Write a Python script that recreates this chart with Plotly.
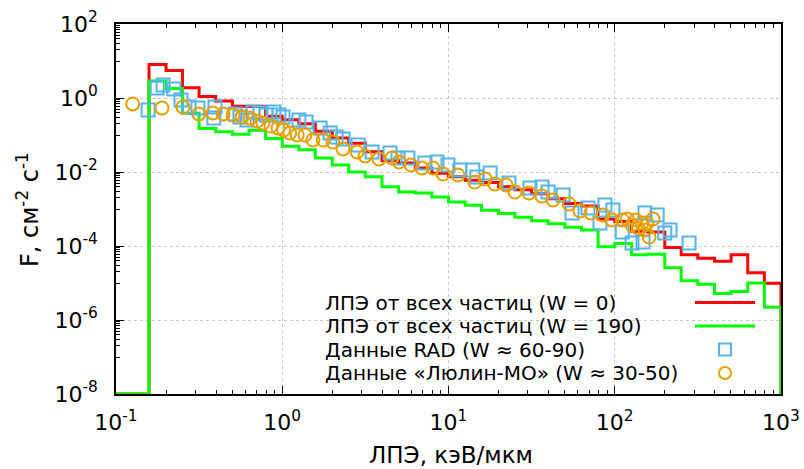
import plotly.graph_objects as go

# LET bin edges, keV/um (10 bins per decade)
let_edges = [0.158, 0.2, 0.251, 0.316, 0.398, 0.501, 0.631, 0.794, 1.0, 1.26,
             1.58, 2.0, 2.51, 3.16, 3.98, 5.01, 6.31, 7.94, 10.0, 12.6,
             15.8, 20.0, 25.1, 31.6, 39.8, 50.1, 63.1, 79.4, 100.0, 126.0,
             158.0, 200.0, 251.0, 316.0, 398.0, 501.0, 631.0, 794.0, 1000.0]

# Flux per bin, cm^-2 s^-1: all particles, W = 0
flux_w0 = [8.1, 5.5, 1.9, 1.1, 0.83, 0.60, 0.60, 0.32, 0.26, 0.20,
           0.126, 0.083, 0.060, 0.035, 0.020, 0.0174, 0.0129, 0.0093, 0.0074, 0.0060,
           0.0052, 0.0040, 0.0033, 0.0026, 0.0019, 0.0014, 0.0012, 5.4e-4, 4.6e-4, 2.5e-4,
           2.4e-4, 9.1e-5, 5.8e-5, 4.7e-5, 3.9e-5, 5.8e-5, 1.9e-5, 9.8e-6]

# Flux per bin: all particles, W = 190
flux_w190 = [2.9, 1.8, 0.39, 0.15, 0.123, 0.105, 0.135, 0.081, 0.050, 0.040,
             0.024, 0.0155, 0.010, 0.0074, 0.0040, 0.0029, 0.0027, 0.0021, 0.00155, 0.00126,
             9.3e-4, 7.6e-4, 6.0e-4, 4.8e-4, 4.0e-4, 3.2e-4, 2.7e-4, 9.5e-5, 1.17e-4, 5.8e-5,
             6.0e-5, 2.6e-5, 1.15e-5, 9.3e-6, 5.2e-6, 5.9e-6, 1.0e-5, 2.2e-6]

# RAD measurements (W ~ 60-90)
rad_let = [0.156, 0.177, 0.192, 0.223, 0.246, 0.275, 0.311, 0.388, 0.394, 0.520,
           0.557, 0.614, 0.667, 0.734, 0.798, 0.891, 0.955, 1.01, 1.26, 1.39,
           1.69, 1.94, 2.11, 2.32, 2.86, 3.47, 4.45, 4.97, 5.70, 7.22,
           8.53, 9.93, 11.7, 14.0, 14.8, 17.8, 23.1, 30.9, 36.5, 39.7,
           48.9, 55.3, 69.0, 81.5, 87.3, 97.5, 111.0, 127.0, 148.0, 152.0,
           180.0, 200.0, 215.0, 280.0]
rad_flux = [0.474, 1.86, 2.25, 1.75, 0.883, 0.571, 0.537, 0.288, 0.571, 0.37,
            0.306, 0.254, 0.419, 0.394, 0.347, 0.419, 0.347, 0.306, 0.254, 0.224,
            0.155, 0.113, 0.0883, 0.078, 0.0537, 0.0348, 0.0327, 0.0239, 0.0239, 0.0175,
            0.0186, 0.0155, 0.0113, 0.0113, 0.00733, 0.0094, 0.00505, 0.0037, 0.00394, 0.00288,
            0.00239, 7.8e-4, 1.06e-3, 4.19e-4, 1.28e-3, 9.4e-4, 2.39e-4, 1.2e-4, 1.28e-4, 7.8e-4,
            6.89e-4, 2.25e-4, 2.7e-4, 1.2e-4]

# Liulin-MO measurements (W ~ 30-50)
liulin_let = [0.126, 0.189, 0.253, 0.315, 0.383, 0.441, 0.506, 0.573, 0.640, 0.705,
              0.766, 0.855, 0.942, 1.02, 1.11, 1.23, 1.37, 1.53, 1.76, 2.02,
              2.32, 2.82, 3.15, 3.82, 4.57, 5.04, 5.95, 6.93, 8.07, 9.27,
              11.4, 14.4, 16.6, 19.0, 22.2, 25.1, 30.5, 36.5, 42.5, 53.1,
              61.8, 71.9, 84.9, 96.2, 111.0, 119.0, 127.0, 134.0, 138.0, 146.0,
              152.0, 156.0, 161.0, 170.0]
liulin_flux = [0.69, 0.537, 0.571, 0.37, 0.394, 0.37, 0.347, 0.306, 0.288, 0.239,
               0.211, 0.175, 0.155, 0.136, 0.113, 0.100, 0.100, 0.0733, 0.0733, 0.0647,
               0.0419, 0.0348, 0.0271, 0.0225, 0.0239, 0.0186, 0.0155, 0.0128, 0.0128, 0.00883,
               0.0083, 0.00537, 0.00647, 0.00474, 0.00446, 0.00288, 0.0027, 0.00224, 0.00175, 0.00137,
               8.83e-4, 7.8e-4, 6.89e-4, 5.05e-4, 5.05e-4, 5.37e-4, 3.7e-4, 5.05e-4, 3.06e-4, 4.19e-4,
               2.71e-4, 4.19e-4, 1.75e-4, 5.37e-4]

x_decades = [0.1, 1, 10, 100, 1000]
x_ticktext = ["10<sup>-1</sup>", "10<sup>0</sup>", "10<sup>1</sup>", "10<sup>2</sup>", "10<sup>3</sup>"]
y_major = [1e-8, 1e-6, 1e-4, 1e-2, 1, 100]
y_ticktext = ["10<sup>-8</sup>", "10<sup>-6</sup>", "10<sup>-4</sup>",
              "10<sup>-2</sup>", "10<sup>0</sup>", "10<sup>2</sup>"]

legend_labels = ["ЛПЭ от всех частиц (W = 0)",
                 "ЛПЭ от всех частиц (W = 190)",
                 "Данные RAD (W ≈ 60-90)",
                 "Данные «Люлин-МО» (W ≈ 30-50)"]

RED = "#ff0000"
GREEN = "#00ff00"
BLUE = "#56b4e9"
ORANGE = "#e69f00"
FONT = "DejaVu Sans"
Y_FLOOR = 1e-8

x_minor = [m * d for d in [0.1, 1, 10, 100] for m in range(2, 10)]
y_minor = [m * d for d in [1e-7, 1e-5, 1e-3, 1e-1, 10] for m in range(1, 10)]


def step_xy(edges, values):
    xs = [x_decades[0]] + edges[:-1] + [edges[-1]]
    ys = [Y_FLOOR] + values + [Y_FLOOR]
    return xs, ys


fig = go.Figure()

for vals, color in [(flux_w0, RED), (flux_w190, GREEN)]:
    sx, sy = step_xy(let_edges, vals)
    fig.add_trace(go.Scatter(x=sx, y=sy, mode="lines", line_shape="hv",
                             line=dict(color=color, width=3), showlegend=False))

fig.add_trace(go.Scatter(x=rad_let, y=rad_flux, mode="markers", showlegend=False,
                         marker=dict(symbol="square-open", size=13, color=BLUE,
                                     line=dict(width=2, color=BLUE))))
fig.add_trace(go.Scatter(x=liulin_let, y=liulin_flux, mode="markers", showlegend=False,
                         marker=dict(symbol="circle-open", size=13, color=ORANGE,
                                     line=dict(width=2, color=ORANGE))))

# plot-area geometry in pixels
W, H = 804, 469
L, R, T, B = 116, 23, 24, 75
pw, ph = W - L - R, H - T - B


def px_x(px):
    return (px - L) / pw


def px_y(py):
    return (H - B - py) / ph


# key box (text on the left, sample on the right)
key_rows = [302.5, 326, 349.5, 373]
annotations = []
shapes = []
for label, yy in zip(legend_labels, key_rows):
    annotations.append(dict(x=px_x(323), y=px_y(yy), xref="paper", yref="paper",
                            text=label, showarrow=False, xanchor="left", yanchor="middle",
                            font=dict(family=FONT, size=20, color="#000000")))
for yy, color in zip(key_rows[:2], [RED, GREEN]):
    shapes.append(dict(type="line", xref="paper", yref="paper",
                       x0=px_x(695), x1=px_x(755), y0=px_y(yy), y1=px_y(yy),
                       line=dict(color=color, width=3)))
shapes.append(dict(type="rect", xref="paper", yref="paper",
                   xsizemode="pixel", ysizemode="pixel",
                   xanchor=px_x(725), yanchor=px_y(key_rows[2]),
                   x0=-6, x1=6, y0=-6, y1=6, line=dict(color=BLUE, width=2)))
shapes.append(dict(type="circle", xref="paper", yref="paper",
                   xsizemode="pixel", ysizemode="pixel",
                   xanchor=px_x(725), yanchor=px_y(key_rows[3]),
                   x0=-6, x1=6, y0=-6, y1=6, line=dict(color=ORANGE, width=2)))

# axis titles
annotations.append(dict(x=px_x(451), y=px_y(455), xref="paper", yref="paper",
                        text="ЛПЭ, кэВ/мкм", showarrow=False,
                        xanchor="center", yanchor="middle",
                        font=dict(family=FONT, size=23, color="#000000")))
annotations.append(dict(x=px_x(28), y=px_y(210), xref="paper", yref="paper",
                        text="F, см<sup>-2</sup> с<sup>-1</sup>", showarrow=False,
                        textangle=-90, xanchor="center", yanchor="middle",
                        font=dict(family=FONT, size=24, color="#000000")))

fig.update_layout(
    width=W, height=H,
    margin=dict(l=L, r=R, t=T, b=B, autoexpand=False),
    paper_bgcolor="#ffffff", plot_bgcolor="#ffffff",
    font=dict(family=FONT, size=22, color="#000000"),
    showlegend=False,
    annotations=annotations,
    shapes=shapes,
)

fig.update_xaxes(
    type="log", range=[-1, 3], automargin=False,
    tickmode="array", tickvals=x_decades, ticktext=x_ticktext,
    ticks="inside", ticklen=8, tickwidth=1, tickcolor="#000000",
    showline=True, linecolor="#000000", linewidth=1.5, mirror="ticks",
    showgrid=True, gridcolor="#c8c8c8", griddash="dot", gridwidth=1,
    zeroline=False,
    minor=dict(tickmode="array", tickvals=x_minor, ticks="inside", ticklen=4,
               tickcolor="#000000", showgrid=False),
    tickfont=dict(family=FONT, size=22),
    ticklabelstandoff=8,
)
fig.update_yaxes(
    type="log", range=[-8, 2], automargin=False,
    tickmode="array", tickvals=y_major, ticktext=y_ticktext,
    ticks="inside", ticklen=8, tickwidth=1, tickcolor="#000000",
    showline=True, linecolor="#000000", linewidth=1.5, mirror=True,
    showgrid=True, gridcolor="#c8c8c8", griddash="dot", gridwidth=1,
    zeroline=False,
    minor=dict(tickmode="array", tickvals=y_minor, ticks="inside", ticklen=4,
               tickcolor="#000000", showgrid=False),
    tickfont=dict(family=FONT, size=22),
    ticklabelstandoff=12,
)

fig.write_html("out.html")
